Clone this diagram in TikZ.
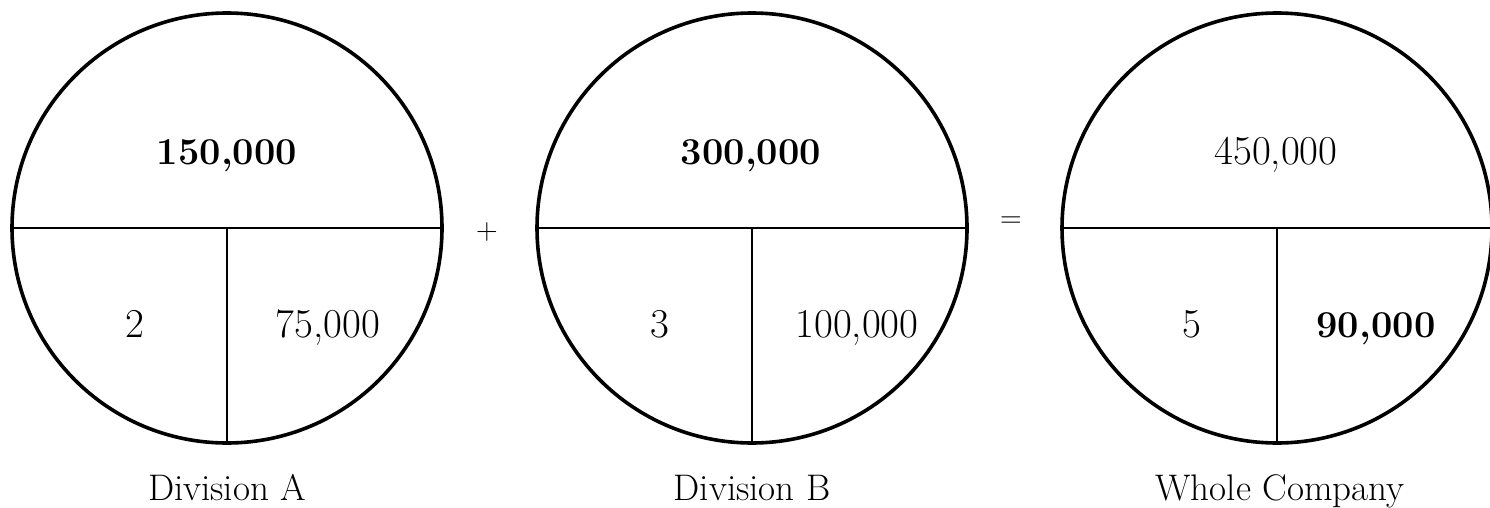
\documentclass[tikz,border=0pt]{standalone}
\begin{document}
\begin{tikzpicture}[x=1pt,y=-1pt,
  disc/.style={draw, circle, minimum size=430pt, inner sep=0pt, outer sep=0pt, line width=3.6pt},
  divline/.style={line width=2.8pt},
  bignum/.style={anchor=base, inner sep=0pt, font=\fontsize{38}{44}\selectfont\bfseries},
  num/.style={anchor=base, inner sep=0pt, font=\fontsize{41}{48}\selectfont},
  caption/.style={anchor=base, inner sep=0pt, font=\fontsize{37}{44}\selectfont},
  op/.style={inner sep=0pt, font=\fontsize{30}{36}\selectfont}]
\useasboundingbox (0,0) rectangle (1490,508);
% Division A
\node[disc] (cA) at (227,228) {};
\draw[divline] (cA.west) -- (cA.east);
\draw[divline] (cA.center) -- (cA.south);
\node[bignum] (tA) at (227,164) {150,000};
\node[num] (lA) at (135,337) {2};
\node[num] (rA) at (328,337) {75,000};
\node[caption] (capA) at (227,500) {Division A};
% Division B
\node[disc] (cB) at (752,228) {};
\draw[divline] (cB.west) -- (cB.east);
\draw[divline] (cB.center) -- (cB.south);
\node[bignum] (tB) at (751,164) {300,000};
\node[num] (lB) at (660,337) {3};
\node[num] (rB) at (857,337) {100,000};
\node[caption] (capB) at (752,500) {Division B};
% Whole company
\node[disc] (cC) at (1277,228) {};
\draw[divline] (cC.west) -- (cC.east);
\draw[divline] (cC.center) -- (cC.south);
\node[num] (tC) at (1276,164) {450,000};
\node[num] (lC) at (1192,337) {5};
\node[bignum] (rC) at (1376,337) {90,000};
\node[caption] (capC) at (1280,500) {Whole Company};
% operators
\node[op] (plus) at (487,232) {+};
\node[op] (eq) at (1011,222) {=};
\end{tikzpicture}
\end{document}
